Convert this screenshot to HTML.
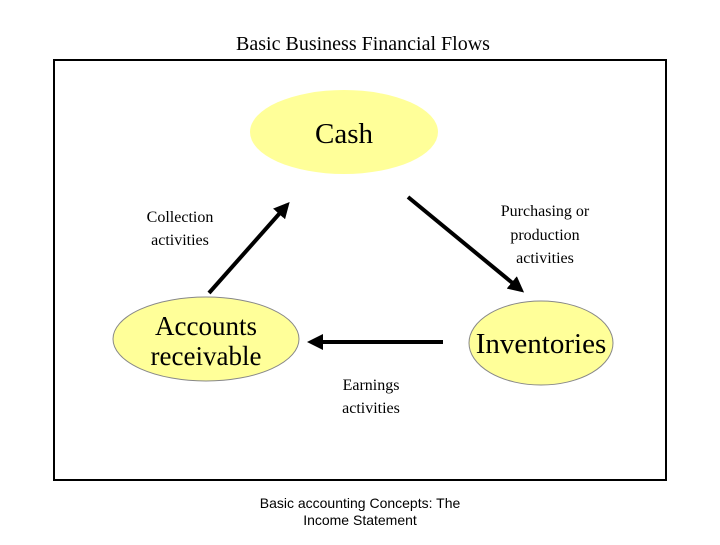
<!DOCTYPE html>
<html><head><style>
body{margin:0;background:#fff;}
svg text{font-family:"Liberation Serif",serif;fill:#000;}
</style></head><body>
<svg width="720" height="540" viewBox="0 0 720 540" xmlns="http://www.w3.org/2000/svg">
<defs><marker id="a" markerWidth="4" markerHeight="4" refX="3" refY="2" orient="auto" markerUnits="strokeWidth"><path d="M0,0 L4,2 L0,4 Z" fill="#000"/></marker></defs>
<text x="363" y="50" font-size="20" text-anchor="middle">Basic Business Financial Flows</text>
<rect x="54" y="60" width="612" height="420" fill="none" stroke="#000" stroke-width="2"/>
<ellipse cx="344" cy="132" rx="94" ry="42" fill="#ffff99"/>
<text x="344" y="143" font-size="29" text-anchor="middle">Cash</text>
<ellipse cx="206" cy="339" rx="93" ry="42" fill="#ffff99" stroke="#888" stroke-width="1"/>
<text x="206" y="335" font-size="27" text-anchor="middle">Accounts</text>
<text x="206" y="365" font-size="27" text-anchor="middle">receivable</text>
<ellipse cx="541" cy="343" rx="72" ry="42" fill="#ffff99" stroke="#888" stroke-width="1"/>
<text x="541" y="353" font-size="29" text-anchor="middle">Inventories</text>
<line x1="209" y1="293" x2="287" y2="205" stroke="#000" stroke-width="4" marker-end="url(#a)"/>
<line x1="408" y1="197" x2="521" y2="290" stroke="#000" stroke-width="4" marker-end="url(#a)"/>
<line x1="443" y1="342" x2="311" y2="342" stroke="#000" stroke-width="4" marker-end="url(#a)"/>
<text x="180" y="222" font-size="16" text-anchor="middle">Collection</text>
<text x="180" y="245" font-size="16" text-anchor="middle">activities</text>
<text x="545" y="216" font-size="16" text-anchor="middle">Purchasing or</text>
<text x="545" y="240" font-size="16" text-anchor="middle">production</text>
<text x="545" y="263" font-size="16" text-anchor="middle">activities</text>
<text x="371" y="390" font-size="16" text-anchor="middle">Earnings</text>
<text x="371" y="413" font-size="16" text-anchor="middle">activities</text>
<text x="360" y="508" font-size="14" text-anchor="middle" style="font-family:'Liberation Sans',sans-serif">Basic accounting Concepts: The</text>
<text x="360" y="525" font-size="14" text-anchor="middle" style="font-family:'Liberation Sans',sans-serif">Income Statement</text>
</svg>
</body></html>
